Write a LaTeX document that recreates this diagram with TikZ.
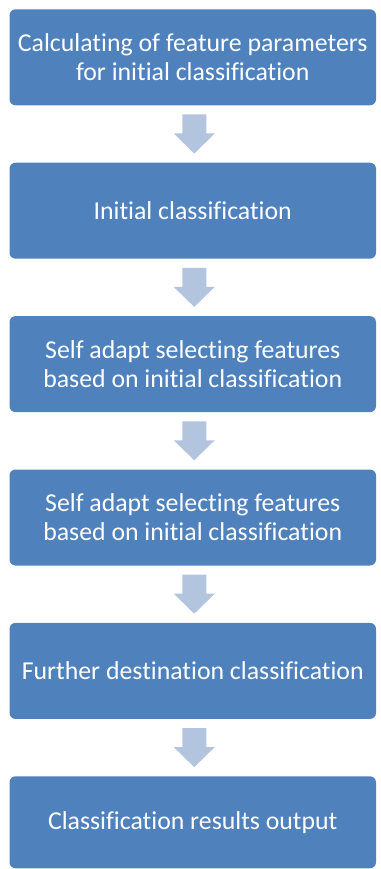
\documentclass[tikz,border=0pt]{standalone}
\usepackage{fontspec}
\setmainfont{Carlito}[Ligatures=NoCommon]
\usetikzlibrary{positioning}
\definecolor{boxblue}{HTML}{4F81BD}
\definecolor{arrowblue}{HTML}{B3C4DF}

\begin{document}
\begin{tikzpicture}[x=1pt,y=1pt,
    stage/.style={fill=boxblue, text=white, rounded corners=6pt,
      minimum width=366.5pt, minimum height=96pt, inner sep=0pt,
      align=center, font=\fontsize{25.8}{29}\selectfont},
    flowarrow/.style={fill=arrowblue}]
    \useasboundingbox (0,0) rectangle (380,-869);
    % stages
    \node[stage] (calc) at (192.75,-57.3) {Calculating of feature parameters\\for initial classification};
    \node[stage, below=57pt of calc] (init) {Initial classification};
    \node[stage, below=57pt of init] (selA) {Self adapt selecting features\\based on initial classification};
    \node[stage, below=57pt of selA] (selB) {Self adapt selecting features\\based on initial classification};
    \node[stage, below=57pt of selB] (further) {Further destination classification};
    \node[stage, below=57pt of further, minimum height=92pt] (output) {Classification results output};
    % block arrows between stages
    \foreach \a in {calc, init, selA, selB, further}
        \fill[flowarrow, shift={(\a.south)}] (-10.5,-9) -- (-10.5,-28) -- (-19,-28) -- (1.5,-48)
            -- (22,-28) -- (13.5,-28) -- (13.5,-9) -- cycle;
\end{tikzpicture}
\end{document}
